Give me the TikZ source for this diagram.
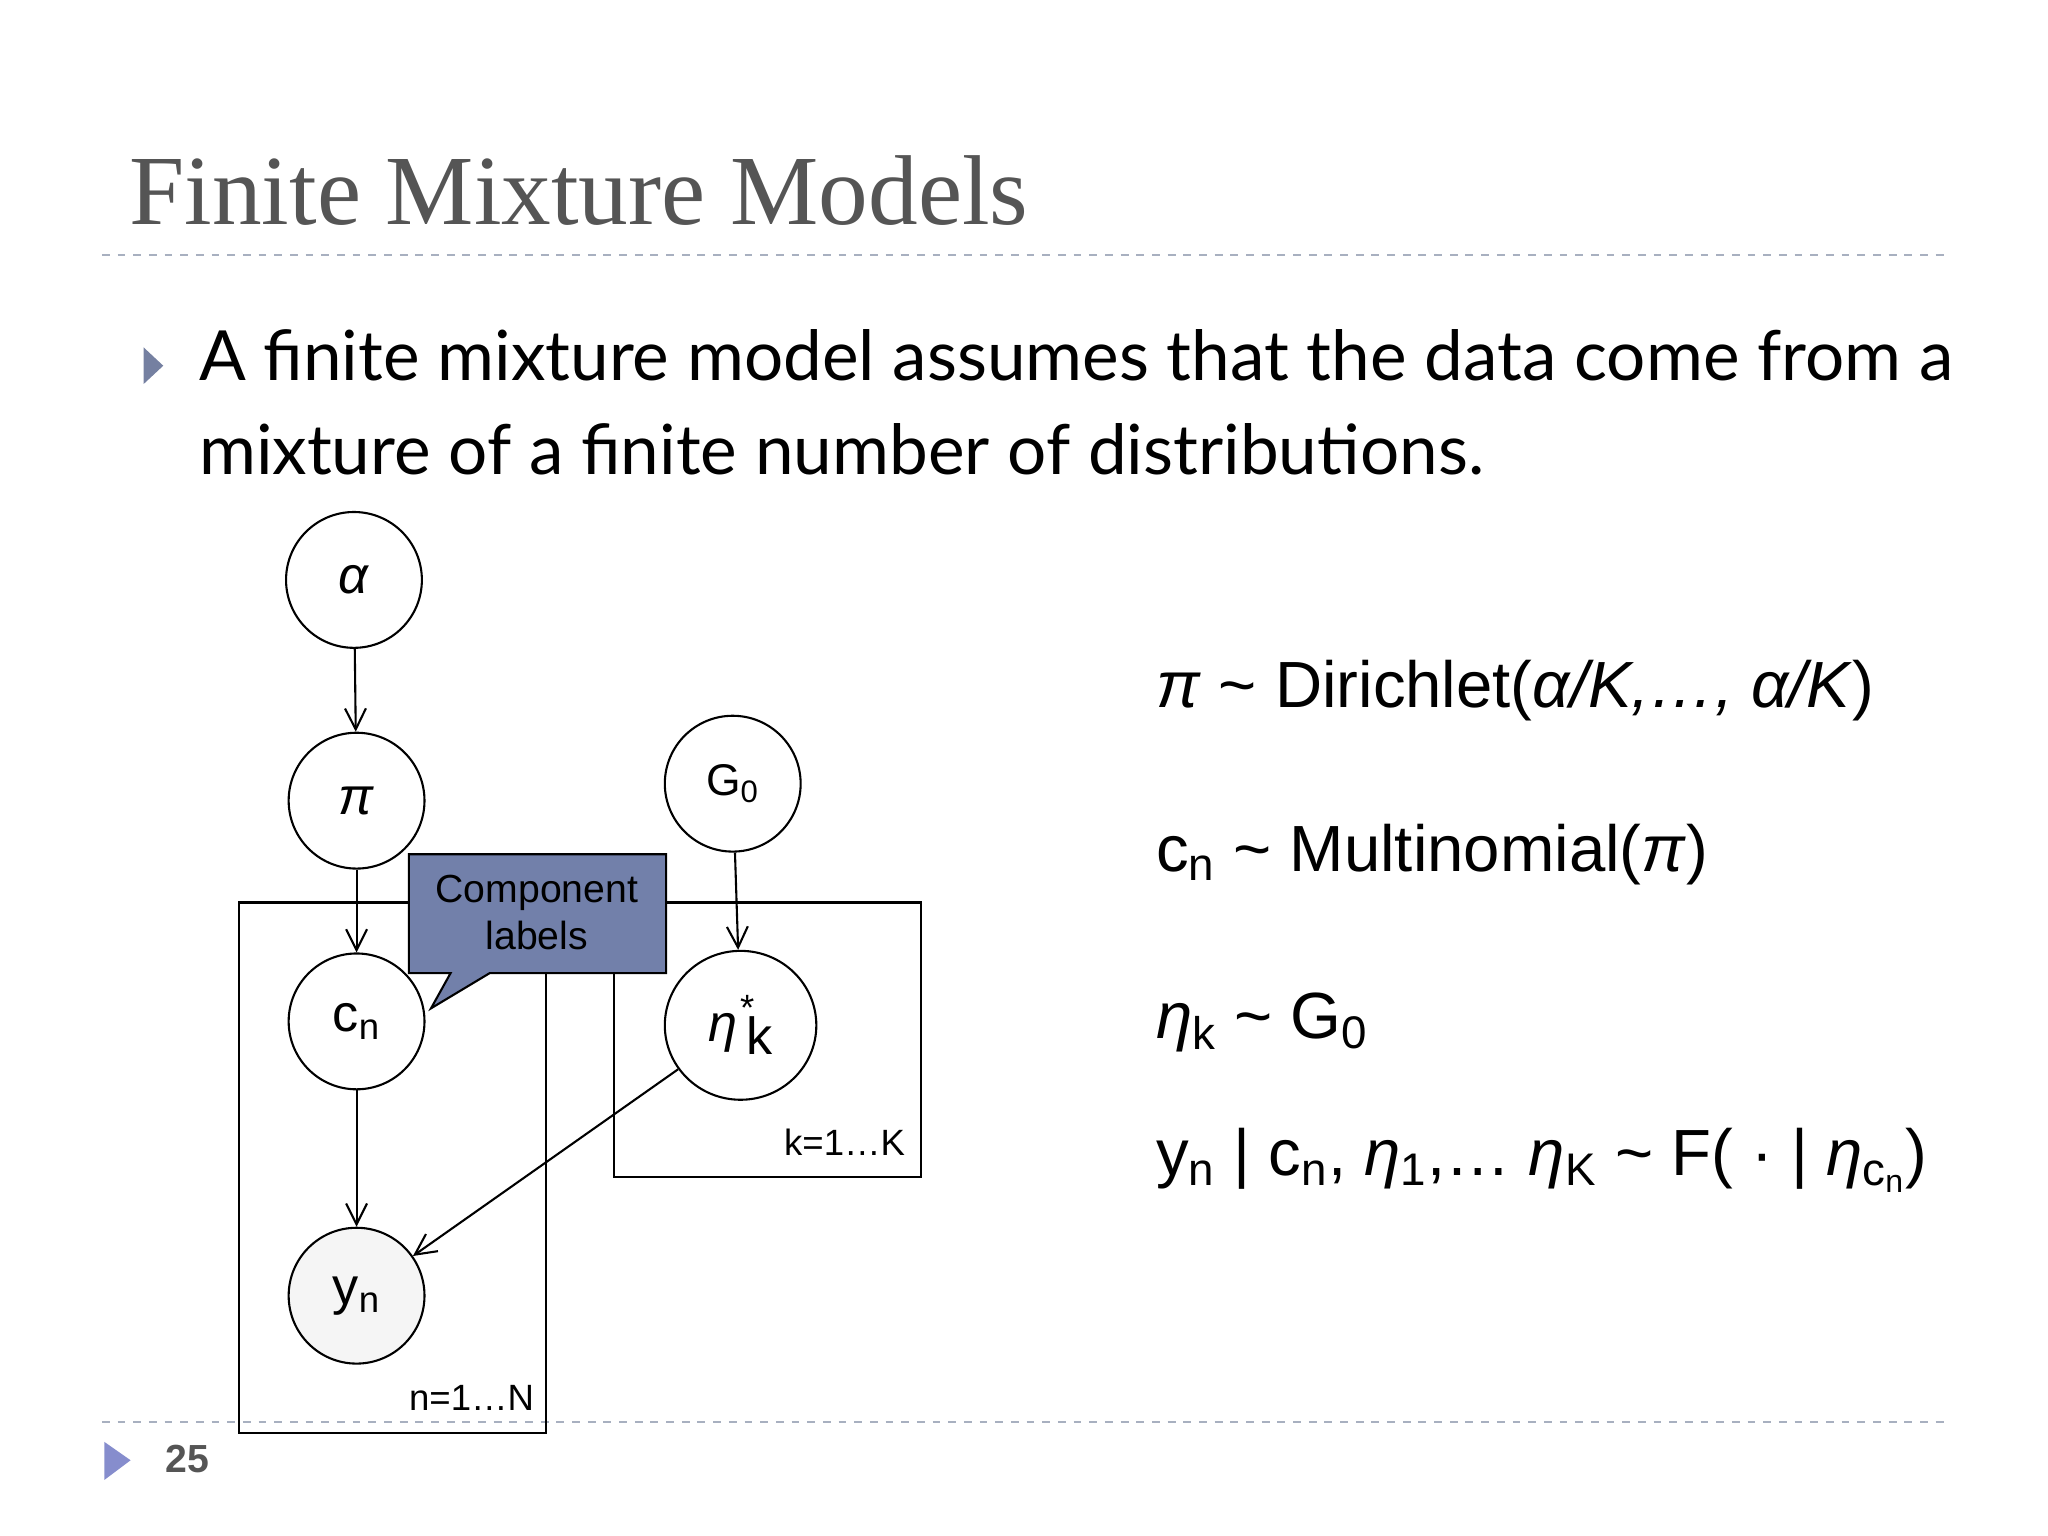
\documentclass[tikz,border=0pt]{standalone}
\usepackage{fontspec}
\setmainfont{Liberation Serif}
\newfontfamily\ars{Liberation Sans}
\newfontfamily\gil{Lato}
\usetikzlibrary{arrows.meta,shapes.geometric}
\definecolor{dashc}{HTML}{A8B0C0}
\definecolor{callc}{HTML}{7280AA}
\definecolor{titc}{HTML}{555555}
\newcommand{\ga}{\textit{α}}
\newcommand{\gp}{\textit{π}}
\newcommand{\gh}{\textit{η}}
\begin{document}
\begin{tikzpicture}[x=0.5pt,y=-0.5pt,
  var/.style={circle,draw,thick,minimum size=52pt,inner sep=0pt,font=\ars\fontsize{20}{22}\selectfont},
  arr/.style={-{Straight Barb[length=8pt,width=8pt]},thick},
  plate/.style={draw,thick},
  sm/.style={font=\ars\fontsize{14}{16}\selectfont},
  eq/.style={anchor=base west,font=\ars\fontsize{25}{28}\selectfont},
  sep/.style={dashc,dashed,thick}]
\useasboundingbox (0,0) rectangle (1568,1176);
\node[anchor=base west,text=titc,font=\fontsize{38}{40}\selectfont] (title) at (92,172) {Finite Mixture Models};
\draw[sep] (78,195) -- (1490,195);
\draw[sep] (78,1089) -- (1490,1089);
\fill[callc!80!gray] (110,266) -- (125,280) -- (110,294) -- cycle;
\node[anchor=north west,inner sep=0pt,font=\gil\fontsize{26.5}{34}\selectfont,align=left] (body) at (152,252) {A finite mixture model assumes that the data come from a\\[2pt]mixture of a finite number of distributions.};
\fill[dashc!80!blue] (80,1104) -- (100,1118) -- (80,1133) -- cycle;
\node[anchor=base west,font=\ars\bfseries\fontsize{15}{16}\selectfont,text=titc] (pg) at (120,1127) {25};
% plates
\draw[plate] (183,691) rectangle (418,1097);
\draw[plate] (470,691) rectangle (705,901);
\node[sm,anchor=south east] (nl) at (416,1087) {n=1…N};
\node[sm,anchor=south east] (kl) at (700,892) {k=1…K};
% nodes
\node[var,fill=white] (alpha) at (271,444) {\ga};
\node[var,fill=white] (pi) at (273,613) {\gp};
\node[var,fill=white,font=\ars\fontsize{17}{20}\selectfont] (G) at (561,600) {G\textsubscript{0}};
\node[var,fill=white] (c) at (273,782) {c\textsubscript{n}};
\node[draw,thick,fill=white,ellipse,minimum width=58pt,minimum height=57pt] (eta) at (567,785) {};
\node[font=\ars\fontsize{20}{22}\selectfont] (etal) at (567,785) {\gh\hspace{1pt}\raisebox{8pt}{\fontsize{14}{14}\selectfont *}\hspace{-3pt}\raisebox{-5pt}{k}};
\node[var,fill=gray!8] (y) at (273,992) {y\textsubscript{n}};
% callout
\draw[thick,fill=callc] (313,654) -- (510,654) -- (510,745) -- (375,745) -- (330,772) -- (345,745) -- (313,745) -- cycle;
\node[align=center,font=\ars\fontsize{15}{18}\selectfont] (cl) at (411,699) {Component\\labels};
% arrows
\draw[arr] (alpha) -- (pi);
\draw[arr] (pi) -- (c);
\draw[arr] (c) -- (y);
\draw[arr] (G) -- (eta);
\draw[arr] (eta) -- (y);
% equations
\node[eq] (e1) at (878,542) {\gp{} \textasciitilde{} Dirichlet(\textit{α/K,…, α/K})};
\node[eq] (e2) at (878,667) {c\textsubscript{n} \textasciitilde{} Multinomial(\gp)};
\node[eq] (e3) at (878,795) {\gh\textsubscript{k} \textasciitilde{} G\textsubscript{0}};
\node[eq] (e4) at (878,900) {y\textsubscript{n} | c\textsubscript{n}, \gh\textsubscript{1},… \gh\textsubscript{K} \textasciitilde{} F( · | \gh\textsubscript{c\textsubscript{n}})};
\end{tikzpicture}
\end{document}
